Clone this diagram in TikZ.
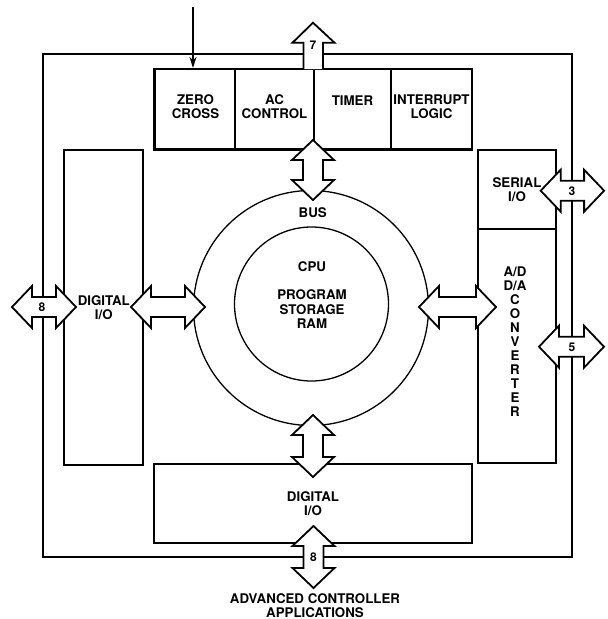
\documentclass[tikz,border=0pt]{standalone}
\usepackage{fontspec}
\setmainfont{TeX Gyre Heros}
\usetikzlibrary{arrows.meta}
\newcommand\lblfont{\bfseries\fontsize{13.3}{14.5}\selectfont}
\newcommand\hl{20}
\newcommand\hw{21}
\newcommand\sw{10}
% double block arrow: #1 x, #2 y, #3 rotation, #4 tail tip offset, #5 head tip offset
\newcommand\darr[5]{%
  \begin{scope}[shift={(#1,#2)},rotate=#3]
    \draw[blockarrow] (#4,0) -- (#4+\hl,\hw) -- (#4+\hl,\sw) -- (#5-\hl,\sw) -- (#5-\hl,\hw)
      -- (#5,0) -- (#5-\hl,-\hw) -- (#5-\hl,-\sw) -- (#4+\hl,-\sw) -- (#4+\hl,-\hw) -- cycle;
  \end{scope}}
\begin{document}
\begin{tikzpicture}[x=1pt,y=-1pt,
  thinline/.style={line width=1.3pt},
  box/.style={draw, line width=2.1pt, inner sep=0pt, align=center, font=\lblfont},
  txt/.style={inner sep=0pt, align=center, font=\lblfont},
  blockarrow/.style={draw, fill=white, line width=1.8pt, line join=miter},
  num/.style={inner sep=0pt, font=\bfseries\fontsize{12}{13}\selectfont}]
\useasboundingbox (0,0) rectangle (608,619);

% outer frame
\node[draw, thinline, minimum width=529pt, minimum height=503pt, inner sep=0pt] (frame) at (307.5,305.5) {};

% top row of blocks
\node[box, minimum width=80.5pt, minimum height=80.5pt] (zc) at (194.75,109.25) {};
\node[box, minimum width=79pt, minimum height=80.5pt] (ac) at (274.5,109.25) {};
\node[box, minimum width=77pt, minimum height=80.5pt] (tm) at (352.5,109.25) {};
\node[box, minimum width=81pt, minimum height=80.5pt] (il) at (431.5,109.25) {};
\node[txt] (zctxt) at (195.5,106.5) {ZERO\\CROSS};
\node[txt] (actxt) at (274.5,106.5) {AC\\CONTROL};
\node[txt] (tmtxt) at (352.5,100.5) {TIMER};
\node[txt] (iltxt) at (431.5,106.5) {INTERRUPT\\LOGIC};

% side and bottom blocks
\node[box, minimum width=79pt, minimum height=315pt] (dioL) at (103.8,307.5) {DIGITAL\\I/O};
\node[box, minimum width=78pt, minimum height=79pt] (ser) at (517,189.5) {SERIAL\\I/O};
\node[box, minimum width=78pt, minimum height=234pt] (adc) at (517,346) {};
\node[txt, font=\bfseries\fontsize{13.3}{14}\selectfont] (adctxt) at (515,341.7) {A/D\\D/A\\C\\O\\N\\V\\E\\R\\T\\E\\R};
\node[box, minimum width=317.4pt, minimum height=79pt] (dioB) at (313,503.8) {DIGITAL\\I/O};

% bus and CPU
\node[circle, draw, thinline, minimum size=235pt, inner sep=0pt] (bus) at (311,308) {};
\node[circle, draw, thinline, minimum size=154pt, inner sep=0pt] (cpu) at (311.5,304) {};
\node[txt] (bustxt) at (312.7,212.7) {BUS};
\node[txt] (cputxt) at (312,295) {CPU\\[14pt]PROGRAM\\STORAGE\\RAM};

% input line into zero cross
\coordinate (src) at (193,7);
\draw[thinline, -{Stealth[length=11pt,width=7pt]}] (src) -- (src |- zc.north);

% 7-line output arrow
\path[fill=white] (303.5,69) -- (303.5,42.7) -- (292.5,42.7) -- (313,22.7) -- (334.5,42.7) -- (323,42.7) -- (323,69) -- cycle;
\draw[line width=1.8pt, line join=miter] (303.5,69) -- (303.5,42.7) -- (292.5,42.7) -- (313,22.7) -- (334.5,42.7) -- (323,42.7) -- (323,69);
\node[num] (n7) at (313,45) {7};

% bus arrows
\darr{313}{170}{90}{-30}{30}
\darr{313}{446}{90}{-31}{31}
\darr{168}{307}{0}{-37}{37}
\darr{457.5}{307}{0}{-38.5}{38.5}

% external arrows
\darr{44}{307}{0}{-32}{32}
\node[num] (n8L) at (42,307) {8};
\darr{572.4}{190.7}{0}{-31.7}{31.7}
\node[num] (n3) at (572,191) {3};
\darr{571.5}{346.7}{0}{-32.5}{32.5}
\node[num] (n5) at (572,347) {5};
\darr{313.5}{557}{90}{-31}{31}
\node[num] (n8B) at (313.5,557) {8};

\node[txt, font=\bfseries\fontsize{13.3}{13.5}\selectfont] (app) at (315,605.5) {ADVANCED CONTROLLER\\APPLICATIONS};
\end{tikzpicture}
\end{document}
